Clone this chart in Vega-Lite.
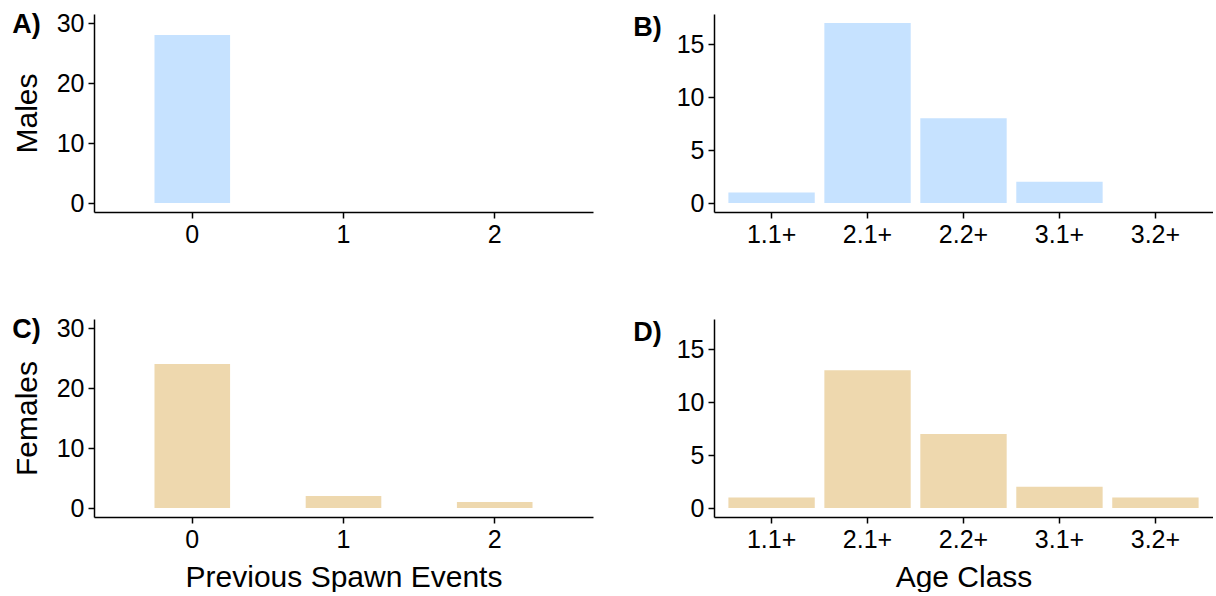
{
  "$schema": "https://vega.github.io/schema/vega-lite/v6.json",
  "padding": {"left": 12, "top": 10, "right": 0, "bottom": 0},
  "config": {
    "font": "Liberation Sans",
    "view": {"stroke": null},
    "axis": {"grid": false, "domainColor": "black", "domainWidth": 1.5, "tickColor": "black", "tickWidth": 1.5, "tickSize": 6, "labelFontSize": 25, "labelColor": "black", "titleFontSize": 30, "titleFontWeight": "normal", "titleColor": "black", "labelPadding": 4},
    "title": {"fontSize": 27, "fontWeight": "bold", "anchor": "start", "frame": "bounds", "color": "black", "baseline": "top", "offset": -28}
  },
  "spacing": 68,
  "vconcat": [
    {
      "spacing": 40,
      "hconcat": [
        {
          "title": {"text": "A)", "dx": 0},
          "width": 499, "height": 198,
          "data": {"values": [{"events": "0", "count": 28}, {"events": "1", "count": 0}, {"events": "2", "count": 0}]},
          "mark": {"type": "bar", "color": "#C6E2FF"},
          "encoding": {
            "x": {"field": "events", "type": "nominal", "sort": null, "scale": {"paddingInner": 0.5, "paddingOuter": 0.4}, "axis": {"title": null, "labelAngle": 0}},
            "y": {"field": "count", "type": "quantitative", "scale": {"domain": [-1.5, 31.5], "nice": false, "zero": false}, "axis": {"title": "Males", "values": [0, 10, 20, 30], "titlePadding": 14}},
            "y2": {"datum": 0}
          }
        },
        {
          "title": {"text": "B)", "dx": -43},
          "width": 499, "height": 198,
          "data": {"values": [{"age": "1.1+", "count": 1}, {"age": "2.1+", "count": 17}, {"age": "2.2+", "count": 8}, {"age": "3.1+", "count": 2}, {"age": "3.2+", "count": 0}]},
          "mark": {"type": "bar", "color": "#C6E2FF"},
          "encoding": {
            "x": {"field": "age", "type": "nominal", "sort": null, "scale": {"paddingInner": 0.1, "paddingOuter": 0.15}, "axis": {"title": null, "labelAngle": 0}},
            "y": {"field": "count", "type": "quantitative", "scale": {"domain": [-0.85, 17.85], "nice": false, "zero": false}, "axis": {"title": null, "values": [0, 5, 10, 15]}},
            "y2": {"datum": 0}
          }
        }
      ]
    },
    {
      "spacing": 40,
      "hconcat": [
        {
          "title": {"text": "C)", "dx": 0},
          "width": 499, "height": 198,
          "data": {"values": [{"events": "0", "count": 24}, {"events": "1", "count": 2}, {"events": "2", "count": 1}]},
          "mark": {"type": "bar", "color": "#EED8AE"},
          "encoding": {
            "x": {"field": "events", "type": "nominal", "sort": null, "scale": {"paddingInner": 0.5, "paddingOuter": 0.4}, "axis": {"title": "Previous Spawn Events", "labelAngle": 0, "titlePadding": 10}},
            "y": {"field": "count", "type": "quantitative", "scale": {"domain": [-1.5, 31.5], "nice": false, "zero": false}, "axis": {"title": "Females", "values": [0, 10, 20, 30], "titlePadding": 14}},
            "y2": {"datum": 0}
          }
        },
        {
          "title": {"text": "D)", "dx": -43},
          "width": 499, "height": 198,
          "data": {"values": [{"age": "1.1+", "count": 1}, {"age": "2.1+", "count": 13}, {"age": "2.2+", "count": 7}, {"age": "3.1+", "count": 2}, {"age": "3.2+", "count": 1}]},
          "mark": {"type": "bar", "color": "#EED8AE"},
          "encoding": {
            "x": {"field": "age", "type": "nominal", "sort": null, "scale": {"paddingInner": 0.1, "paddingOuter": 0.15}, "axis": {"title": "Age Class", "labelAngle": 0, "titlePadding": 10}},
            "y": {"field": "count", "type": "quantitative", "scale": {"domain": [-0.85, 17.85], "nice": false, "zero": false}, "axis": {"title": null, "values": [0, 5, 10, 15]}},
            "y2": {"datum": 0}
          }
        }
      ]
    }
  ]
}
